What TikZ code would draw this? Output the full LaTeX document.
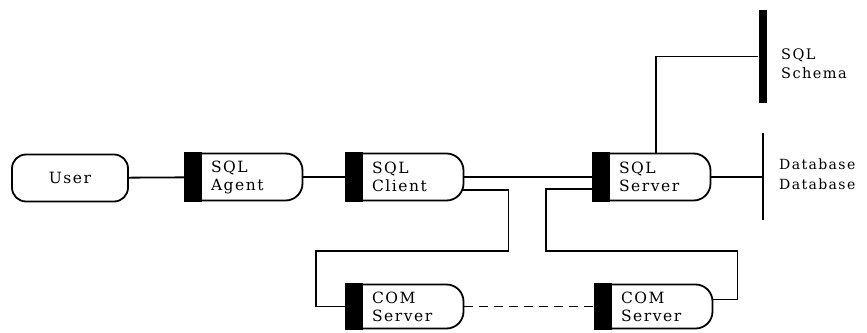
\documentclass[tikz,border=0pt]{standalone}
\usepackage{fontspec}
\newfontfamily\diagfont{DejaVu Serif}[LetterSpace=10]
\usetikzlibrary{positioning}

\begin{document}
\begin{tikzpicture}[
		x=1pt, y=-1pt,
		wire/.style={line width=1.8pt, draw=black},
		endnode/.style={
			rectangle,
			rounded corners=14pt,
			draw=black,
			line width=1.8pt,
			minimum width=116pt,
			minimum height=47pt,
			inner sep=0pt,
			font=\diagfont\fontsize{15.5}{18}\selectfont
		},
		unitnode/.style={
			rectangle,
			rounded corners=17pt,
			draw=black,
			line width=1.8pt,
			minimum width=117pt,
			minimum height=47pt,
			text width=66pt,
			inner sep=0pt,
			align=left,
			font=\diagfont\fontsize{15.5}{18}\selectfont
		},
		barnode/.style={
			rectangle,
			fill=black,
			inner sep=0pt
		},
		lblnode/.style={
			anchor=west,
			align=left,
			inner sep=0pt,
			font=\diagfont\fontsize{14.5}{19}\selectfont
		}
		]
		\useasboundingbox (0,0) rectangle (867,332);

		\node[endnode] (user) at (70,178) {User};
		\node[unitnode] (agent) at (244,177) {SQL\\Agent};
		\node[unitnode] (client) at (405,177) {SQL\\Client};
		\node[unitnode] (server) at (652,177) {SQL\\Server};
		\node[unitnode, minimum height=44pt] (comA) at (405,306.5) {COM\\Server};
		\node[unitnode, minimum height=44pt] (comB) at (654,306.5) {COM\\Server};

		% black bars on the left of each unit
		\foreach \u in {agent,client,server,comA,comB}
			\fill ([xshift=-0.9pt,yshift=0.9pt]\u.north west) rectangle ([xshift=17pt,yshift=-0.9pt]\u.south west);

		\node[barnode, minimum width=8pt, minimum height=93pt] (schema) at (762.5,56.5) {};
		\node[barnode, minimum width=2pt, minimum height=87pt] (db) at (763,176.5) {};
		\node[lblnode] (schemalbl) at (781,64) {SQL\\Schema};
		\node[lblnode, font=\diagfont\fontsize{14}{20}\selectfont] (dblbl) at (779,174) {Database\\Database};

		\draw[wire] (user) -- (agent);
		\draw[wire] (agent) -- (client);
		\draw[wire] (client) -- (server);
		\draw[wire] ([xshift=-2pt,yshift=-13pt]client.east) -| ++(46,61) -| ([xshift=-30pt]comA.west) -- (comA.west);
		\draw[wire] ([yshift=-12pt]server.west) -| ++(-47,62) -| ([xshift=24pt,yshift=7pt]comB.east) -- ([yshift=7pt]comB.east);
		\draw[wire, dash pattern=on 9pt off 6pt] (comA) -- (comB);
		\draw[wire] ([xshift=4pt]server.north) |- (schema.west);
		\draw[wire] (server.east) -- (server.east -| db.center);
\end{tikzpicture}
\end{document}
